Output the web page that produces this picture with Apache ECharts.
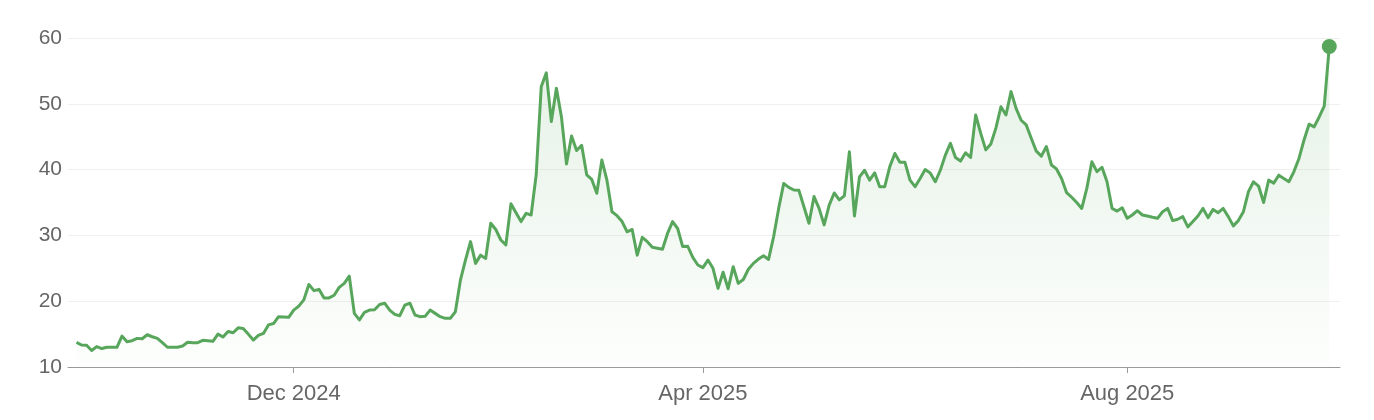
<!DOCTYPE html>
<html><head><meta charset="utf-8">
<script src="https://cdn.jsdelivr.net/npm/echarts@6/dist/echarts.min.js"></script>
<style>html,body{margin:0;padding:0;background:#fff}#c{width:1374px;height:420px}</style>
</head><body><div id="c"></div>
<script>
// Trading-day calendar (first day and market holidays)
const startDate = '2024-10-01';
const holidays = ['2024-11-28','2024-12-25','2025-01-01','2025-01-09','2025-01-20','2025-02-17','2025-04-18','2025-05-26','2025-06-19','2025-07-04','2025-09-01'];
// Months whose first trading day gets a labelled tick
const tickMonths = ['2024-12','2025-04','2025-08'];
const monthNames = ['Jan','Feb','Mar','Apr','May','Jun','Jul','Aug','Sep','Oct','Nov','Dec'];
// Y axis ticks
const yMin = 10, yMax = 60, yStep = 10;
// Daily closing values
const prices = [
13.75,13.35,13.3,12.5,13.1,12.8,13.0,13.0,13.0,14.7,
13.85,14.0,14.35,14.3,14.9,14.6,14.35,13.7,13.0,13.0,
13.0,13.2,13.75,13.7,13.7,14.05,14.0,13.9,15.0,14.55,
15.4,15.2,15.95,15.85,15.0,14.1,14.8,15.1,16.4,16.6,
17.65,17.6,17.55,18.65,19.25,20.2,22.55,21.6,21.8,20.5,
20.5,20.9,22.1,22.7,23.8,18.15,17.15,18.3,18.65,18.7,
19.5,19.7,18.65,18.0,17.8,19.4,19.7,17.9,17.65,17.7,
18.65,18.15,17.65,17.4,17.4,18.4,23.2,26.25,29.05,25.75,
27.0,26.5,31.85,30.9,29.3,28.55,34.8,33.45,32.1,33.35,
33.1,39.2,52.6,54.7,47.3,52.35,48.0,40.85,45.1,42.9,
43.7,39.2,38.5,36.4,41.45,38.4,33.6,33.0,32.1,30.55,
30.9,27.0,29.7,29.05,28.2,28.05,27.9,30.3,32.1,31.05,
28.3,28.35,26.65,25.5,25.1,26.25,25.0,21.95,24.4,21.9,
25.25,22.7,23.3,24.85,25.75,26.4,26.9,26.35,29.8,34.1,
37.9,37.3,36.9,36.85,34.35,31.85,35.9,34.1,31.6,34.6,
36.45,35.4,36.0,42.7,32.95,38.9,39.9,38.4,39.5,37.4,
37.4,40.45,42.45,41.1,41.1,38.4,37.4,38.65,40.0,39.5,
38.15,39.9,42.2,44.0,41.85,41.3,42.55,41.85,48.3,45.5,
43.0,43.9,46.3,49.55,48.3,51.85,49.3,47.5,46.8,44.75,
42.8,42.05,43.5,40.7,40.1,38.65,36.5,35.8,35.0,34.1,
37.15,41.2,39.7,40.35,38.15,34.1,33.7,34.2,32.6,33.1,
33.75,33.1,32.95,32.75,32.6,33.6,34.1,32.25,32.45,32.85,
31.3,32.1,32.95,34.1,32.7,33.95,33.45,34.1,32.85,31.45,
32.25,33.6,36.65,38.15,37.5,35.0,38.4,37.95,39.15,38.65,
38.15,39.7,41.7,44.5,46.9,46.5,48.0,49.65,58.7
];

function pad(n){return n<10?'0'+n:''+n;}
const dates = [];
{
  const d = new Date(startDate + 'T12:00:00Z');
  while (dates.length < prices.length) {
    const dow = d.getUTCDay();
    const s = d.getUTCFullYear() + '-' + pad(d.getUTCMonth()+1) + '-' + pad(d.getUTCDate());
    if (dow !== 0 && dow !== 6 && holidays.indexOf(s) < 0) dates.push(s);
    d.setUTCDate(d.getUTCDate() + 1);
  }
}
const tickIdx = tickMonths.map(m => dates.findIndex(s => s.slice(0,7) === m));
function labelFor(i){
  const s = dates[Math.round(i)];
  return monthNames[+s.slice(5,7)-1] + ' ' + s.slice(0,4);
}
const last = prices.length - 1;
const seriesData = prices.map((v,i) => i === last
  ? {value:[i,v], symbol:'circle', symbolSize:15, itemStyle:{color:'#58a65c', borderWidth:0}}
  : [i,v]);

const FONT = '"Liberation Sans", Arial, Helvetica, sans-serif';
const chart = echarts.init(document.getElementById('c'), null, {renderer:'canvas'});
chart.setOption({
  animation:false,
  backgroundColor:'#ffffff',
  grid:{left:68, right:34, top:38, bottom:53, containLabel:false},
  xAxis:{
    type:'value', min:-1.683, max:last + 2.12,
    axisLine:{show:true, lineStyle:{color:'#9a9a9a', width:1}},
    axisTick:{show:true, customValues:tickIdx, length:6, lineStyle:{color:'#9a9a9a'}},
    axisLabel:{customValues:tickIdx, formatter:v => labelFor(v), color:'#666', fontSize:22, fontFamily:FONT, margin:16},
    splitLine:{show:false}
  },
  yAxis:{
    type:'value', min:yMin, max:yMax, interval:yStep,
    axisLine:{show:false}, axisTick:{show:false},
    axisLabel:{color:'#666', fontSize:21, fontFamily:FONT, margin:6},
    splitLine:{show:true, lineStyle:{color:'#f0f0f0', width:1}}
  },
  series:[{
    type:'line', data:seriesData, symbol:'none', showSymbol:true,
    lineStyle:{color:'#58a65c', width:3, join:'round'},
    itemStyle:{color:'#58a65c'},
    areaStyle:{color:new echarts.graphic.LinearGradient(0,0,0,1,[
      {offset:0, color:'rgba(88,166,92,0.22)'},
      {offset:1, color:'rgba(88,166,92,0.02)'}
    ])},
    z:3
  }]
});
</script>
</body></html>
